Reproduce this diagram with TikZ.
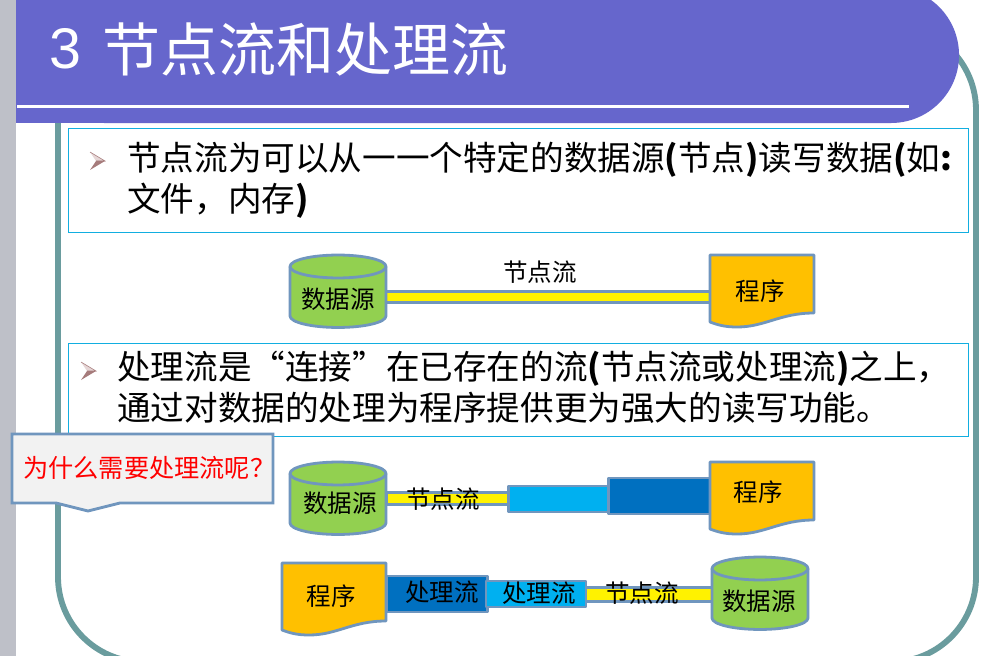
\documentclass[tikz,border=0pt]{standalone}
\usepackage{fontspec}
\setmainfont{Liberation Sans}
\newfontfamily\cjk{Noto Sans CJK SC}
\definecolor{hdr}{HTML}{6666CC}
\definecolor{teal1}{HTML}{6A9C9E}
\definecolor{side}{HTML}{BEC0C8}
\definecolor{edge}{HTML}{7096BE}
\definecolor{cyanb}{HTML}{00B0F0}
\definecolor{blueb}{HTML}{0070C0}
\definecolor{greenb}{HTML}{92D050}
\definecolor{orangeb}{HTML}{FFC000}
\definecolor{boxline}{HTML}{12AEE0}
\definecolor{bulletdark}{HTML}{A67B7B}
\definecolor{bulletlight}{HTML}{E6D6D6}
\tikzset{
  x=0.75pt,y=-0.75pt,
  shapeline/.style={draw=edge,line width=2.1pt,line join=round},
  barbox/.style={shapeline,rectangle,inner sep=0pt,outer sep=0pt},
  lbl/.style={font=\cjk\fontsize{18.4}{20}\selectfont,text=black,inner sep=0pt},
  body/.style={font=\cjk\fontsize{25.2}{29}\selectfont,text=black,inner sep=0pt,anchor=west},
  panel/.style={draw=boxline,line width=0.7pt},
}
\newcommand{\cylshape}[2]{% left x, top y of ellipse
  \path[shapeline,fill=greenb] (#1,#2+11.5) arc[x radius=36pt,y radius=8.6pt,start angle=180,end angle=0]
     -- (#1+96,#2+61) arc[x radius=36pt,y radius=8.6pt,start angle=0,end angle=-180] -- cycle;
  \path[shapeline] (#1,#2+11.5) arc[x radius=36pt,y radius=8.6pt,start angle=180,end angle=360];
}
\newcommand{\docshape}[2]{% left x, top y
  \path[shapeline,fill=orangeb] (#1,#2) -- (#1+104,#2) -- (#1+104,#2+58)
    .. controls (#1+70,#2+58) and (#1+55,#2+72) .. (#1+27,#2+72)
    .. controls (#1+15,#2+72) and (#1+8,#2+70) .. (#1,#2+67) -- cycle;
}
\newcommand{\bulletmark}[2]{% left x, centre y
  \fill[bulletlight] (#1,#2-9) -- (#1+15,#2) -- (#1+6,#2) -- cycle;
  \fill[bulletdark] (#1,#2+9) -- (#1+15,#2) -- (#1+6,#2) -- cycle;
  \draw[bulletdark,line width=0.4pt] (#1,#2-9) -- (#1+15,#2) -- (#1+6,#2);
}
\newcommand{\bp}[1]{{\bfseries #1}}
\begin{document}
\begin{tikzpicture}
\useasboundingbox (0,0) rectangle (982,656);
\fill[white] (0,0) rectangle (982,656);
\fill[side] (0,0) rectangle (16,656);
% rounded frame
\draw[teal1,line width=4.4pt,rounded corners=63.75pt] (58,25) rectangle (976,662);
% header
\fill[hdr] (16,0) -- (931,0) arc[radius=51pt,start angle=54,end angle=-90] -- (16,123) -- cycle;
\fill[white] (17,105) rectangle (909,108.5);
\node[anchor=west,inner sep=0pt,text=white,font=\fontsize{43}{46}\selectfont] (title) at (49,49) {3};
\node[anchor=west,inner sep=0pt,text=white,font=\cjk\fontsize{43.5}{46}\selectfont] (titlecn) at (102,49) {节点流和处理流};
% panels
\draw[panel] (68,128) rectangle (968,232);
\bulletmark{90}{161}
\node[body] (t1) at (127,160) {节点流为可以从一一个特定的数据源\bp{(}节点\bp{)}读写数据\bp{(}如\bp{:}};
\node[body] (t2) at (127,201) {文件，内存\bp{)}};
\draw[panel] (68,343) rectangle (968,436);
\bulletmark{81}{371}
\node[body] (t3) at (117,369) {处理流是“连接”在已存在的流\bp{(}节点流或处理流\bp{)}之上，};
\node[body] (t4) at (117,408) {通过对数据的处理为程序提供更为强大的读写功能。};
% diagram 1
\node[barbox,fill=yellow,minimum width=243pt,minimum height=8.5pt] (b1) at (548,297) {};
\cylshape{290}{255}
\docshape{710}{255}
\node[lbl] (l1) at (540,272) {节点流};
\node[lbl] (l2) at (338,299) {数据源};
\node[lbl] (l3) at (760,291) {程序};
% diagram 2
\node[barbox,fill=yellow,minimum width=92pt,minimum height=9pt] (b2) at (448,498.5) {};
\node[barbox,fill=cyanb,minimum width=75.5pt,minimum height=19.5pt] (b3) at (559,499) {};
\node[barbox,fill=blueb,minimum width=76pt,minimum height=27pt] (b4) at (659.5,496) {};
\cylshape{290}{462}
\docshape{710}{462}
\node[lbl] (l4) at (443,499) {节点流};
\node[lbl] (l5) at (340,503) {数据源};
\node[lbl] (l6) at (758,492) {程序};
% diagram 3
\node[barbox,fill=blueb,minimum width=76pt,minimum height=27pt] (b5) at (437,594) {};
\node[barbox,fill=cyanb,minimum width=75pt,minimum height=19.5pt] (b6) at (536,594) {};
\node[barbox,fill=yellow,minimum width=94.5pt,minimum height=10pt] (b7) at (649,594.5) {};
\docshape{282}{563}
\cylshape{712}{557}
\node[lbl] (l7) at (331,596) {程序};
\node[lbl] (l8) at (442,592) {处理流};
\node[lbl] (l9) at (539,593) {处理流};
\node[lbl] (l10) at (642,593) {节点流};
\node[lbl] (l11) at (759,601) {数据源};
% callout
\path[shapeline,fill=black!5,line join=miter] (12,434) -- (273,434) -- (273,503) -- (120,503) -- (88,511) -- (56,503) -- (12,503) -- cycle;
\node[lbl,anchor=west,text=red,font=\cjk\fontsize{18.9}{20}\selectfont] (q) at (23,468) {为什么需要处理流呢？};
\end{tikzpicture}
\end{document}
